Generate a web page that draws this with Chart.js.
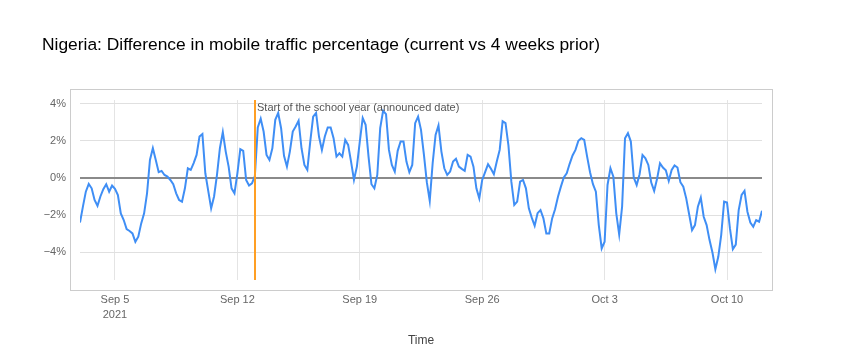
<!DOCTYPE html>
<html>
<head>
<meta charset="utf-8">
<title>Nigeria mobile traffic</title>
<script src="https://cdn.jsdelivr.net/npm/chart.js@4"></script>
<style>
  html, body { margin: 0; padding: 0; background: #fff; }
  #trafficChart { display: block; }
</style>
</head>
<body>
<canvas id="trafficChart" width="842" height="360"></canvas>
<script>
// Series: one value every 4 hours, starting Sep 3 2021 00:00 (day 0)
const stepDays = 1 / 6;
const trafficDiff = [
  -2.4, -1.55, -0.74, -0.32, -0.56, -1.19, -1.5, -1.0, -0.61, -0.34,
  -0.74, -0.41, -0.59, -0.92, -1.91, -2.27, -2.76, -2.86, -2.99, -3.44,
  -3.17, -2.45, -1.91, -0.83, 0.97, 1.6, 0.97, 0.31, 0.38, 0.16,
  0.07, -0.11, -0.34, -0.83, -1.19, -1.28, -0.56, 0.52, 0.43, 0.8,
  1.24, 2.23, 2.36, 0.25, -0.7, -1.64, -1.0, 0.16, 1.6, 2.47,
  1.42, 0.61, -0.56, -0.83, 0.25, 1.55, 1.46, -0.11, -0.41, -0.29,
  0.1, 2.72, 3.19, 2.5, 1.24, 0.97, 1.6, 3.13, 3.5, 2.68,
  1.19, 0.61, 1.42, 2.5, 2.77, 3.08, 1.6, 0.7, 0.43, 1.96,
  3.3, 3.5, 2.23, 1.5, 2.23, 2.72, 2.72, 2.14, 1.15, 1.33,
  1.15, 2.05, 1.78, 0.88, -0.11, 0.61, 1.96, 3.23, 2.86, 1.15,
  -0.34, -0.56, 0.16, 2.68, 3.62, 3.44, 1.51, 0.7, 0.34, 1.46,
  1.96, 1.96, 0.88, 0.31, 0.7, 2.95, 3.3, 2.59, 1.25, -0.23,
  -1.24, 0.79, 2.32, 2.83, 1.42, 0.52, 0.16, 0.34, 0.88, 1.03,
  0.61, 0.49, 0.38, 1.24, 1.15, 0.61, -0.56, -1.1, -0.11, 0.31,
  0.74, 0.49, 0.2, 0.88, 1.51, 3.05, 2.95, 1.75, -0.2, -1.46,
  -1.28, -0.2, -0.11, -0.56, -1.64, -2.14, -2.58, -1.9, -1.73, -2.18,
  -2.99, -2.99, -2.18, -1.69, -1.01, -0.47, 0.02, 0.25, 0.76, 1.21,
  1.51, 2.0, 2.14, 2.05, 1.15, 0.31, -0.34, -0.74, -2.54, -3.8,
  -3.44, -0.38, 0.52, 0.07, -1.91, -3.05, -1.55, 2.14, 2.41, 1.96,
  0.02, -0.38, 0.2, 1.24, 1.06, 0.7, -0.25, -0.7, -0.05, 0.79,
  0.56, 0.41, -0.16, 0.43, 0.67, 0.56, -0.23, -0.47, -1.1, -1.96,
  -2.81, -2.54, -1.55, -1.06, -2.09, -2.54, -3.35, -4.02, -4.92, -4.25,
  -3.08, -1.28, -1.33, -2.72, -3.84, -3.59, -1.73, -0.92, -0.7, -1.82,
  -2.4, -2.63, -2.27, -2.36, -1.77
];

// X axis: days since Sep 3
const xTickDays = [2, 9, 16, 23, 30, 37];
const xTickLabels = [["Sep 5", "2021"], "Sep 12", "Sep 19", "Sep 26", "Oct 3", "Oct 10"];
const xRange = [0, 39];

// Y axis (percent)
const yTicks = [-4, -2, 0, 2, 4];
const yTickLabels = ["\u22124%", "\u22122%", "0%", "2%", "4%"];
const yRange = [-5.5, 4.2];

// Event marker
const schoolStartDay = 10;
const schoolStartLabel = "Start of the school year (announced date)";

const TrafficChart = {
  chart: null,

  init() {
    const canvas = document.getElementById("trafficChart");
    const points = trafficDiff.map((v, i) => ({ x: i * stepDays, y: v }));

    this.chart = new Chart(canvas, {
      type: "line",
      data: {
        datasets: [
          {
            data: points,
            borderColor: "#3f8ef5",
            borderWidth: 2,
            pointRadius: 0,
            tension: 0,
            fill: false,
          },
        ],
      },
      options: {
        responsive: false,
        animation: false,
        devicePixelRatio: 1,
        layout: { padding: { left: 42, right: 80, top: 0, bottom: 0 } },
        plugins: {
          legend: { display: false },
          tooltip: { enabled: false },
          title: {
            display: true,
            text: "Nigeria: Difference in mobile traffic percentage (current vs 4 weeks prior)",
            align: "start",
            color: "#000",
            font: { family: "'Liberation Sans', Arial, sans-serif", size: 17.4, weight: "normal" },
            padding: { top: 34.5, bottom: 44.6 },
          },
        },
        scales: {
          x: {
            type: "linear",
            min: xRange[0],
            max: xRange[1],
            afterBuildTicks: (scale) => {
              scale.ticks = xTickDays.map((d) => ({ value: d }));
            },
            afterFit: (scale) => {
              scale.height = 80;
            },
            ticks: {
              autoSkip: false,
              maxRotation: 0,
              padding: 12.5,
              color: "#666",
              font: { family: "'Liberation Sans', Arial, sans-serif", size: 11, lineHeight: 1.36 },
              callback: (value, index) => xTickLabels[index],
            },
            grid: { color: "#e4e4e4", drawTicks: false },
            border: { display: false },
            title: {
              display: true,
              text: "Time",
              color: "#444",
              font: { family: "'Liberation Sans', Arial, sans-serif", size: 12 },
              padding: { top: 0, bottom: 11.8 },
            },
          },
          y: {
            min: yRange[0],
            max: yRange[1],
            afterBuildTicks: (scale) => {
              scale.ticks = yTicks.map((v) => ({ value: v }));
            },
            afterFit: (scale) => {
              scale.width = 38;
            },
            ticks: {
              padding: 14,
              color: "#666",
              font: { family: "'Liberation Sans', Arial, sans-serif", size: 11 },
              callback: (value, index) => yTickLabels[index],
            },
            grid: {
              drawTicks: false,
              color: (ctx) => (ctx.tick && ctx.tick.value === 0 ? "#8a8a8a" : "#e0e0e0"),
              lineWidth: (ctx) => (ctx.tick && ctx.tick.value === 0 ? 2 : 1),
            },
            border: { display: false },
          },
        },
      },
      plugins: [this.framePlugin, this.markerPlugin],
    });
  },

  /**
   * Light frame around the plot area
   */
  framePlugin: {
    id: "frame",
    beforeDraw(chart) {
      const { ctx, chartArea } = chart;
      ctx.save();
      ctx.strokeStyle = "#cccccc";
      ctx.lineWidth = 1;
      ctx.strokeRect(
        Math.round(chartArea.left) - 10 + 0.5,
        Math.round(chartArea.top) - 11 + 0.5,
        Math.round(chartArea.width) + 20,
        Math.round(chartArea.height) + 21
      );
      ctx.restore();
    },
  },

  /**
   * Orange vertical line for the school year start, with its note
   */
  markerPlugin: {
    id: "marker",
    afterDatasetsDraw(chart) {
      const { ctx, chartArea, scales } = chart;
      const x = Math.round(scales.x.getPixelForValue(schoolStartDay));
      ctx.save();
      ctx.strokeStyle = "#ff9f24";
      ctx.lineWidth = 2;
      ctx.beginPath();
      ctx.moveTo(x, chartArea.top);
      ctx.lineTo(x, chartArea.bottom);
      ctx.stroke();

      ctx.font = "11px 'Liberation Sans', Arial, sans-serif";
      ctx.fillStyle = "#555";
      ctx.textAlign = "left";
      ctx.textBaseline = "middle";
      ctx.fillText(schoolStartLabel, x + 2, chartArea.top + 8);
      ctx.restore();
    },
  },
};

TrafficChart.init();
</script>
</body>
</html>
